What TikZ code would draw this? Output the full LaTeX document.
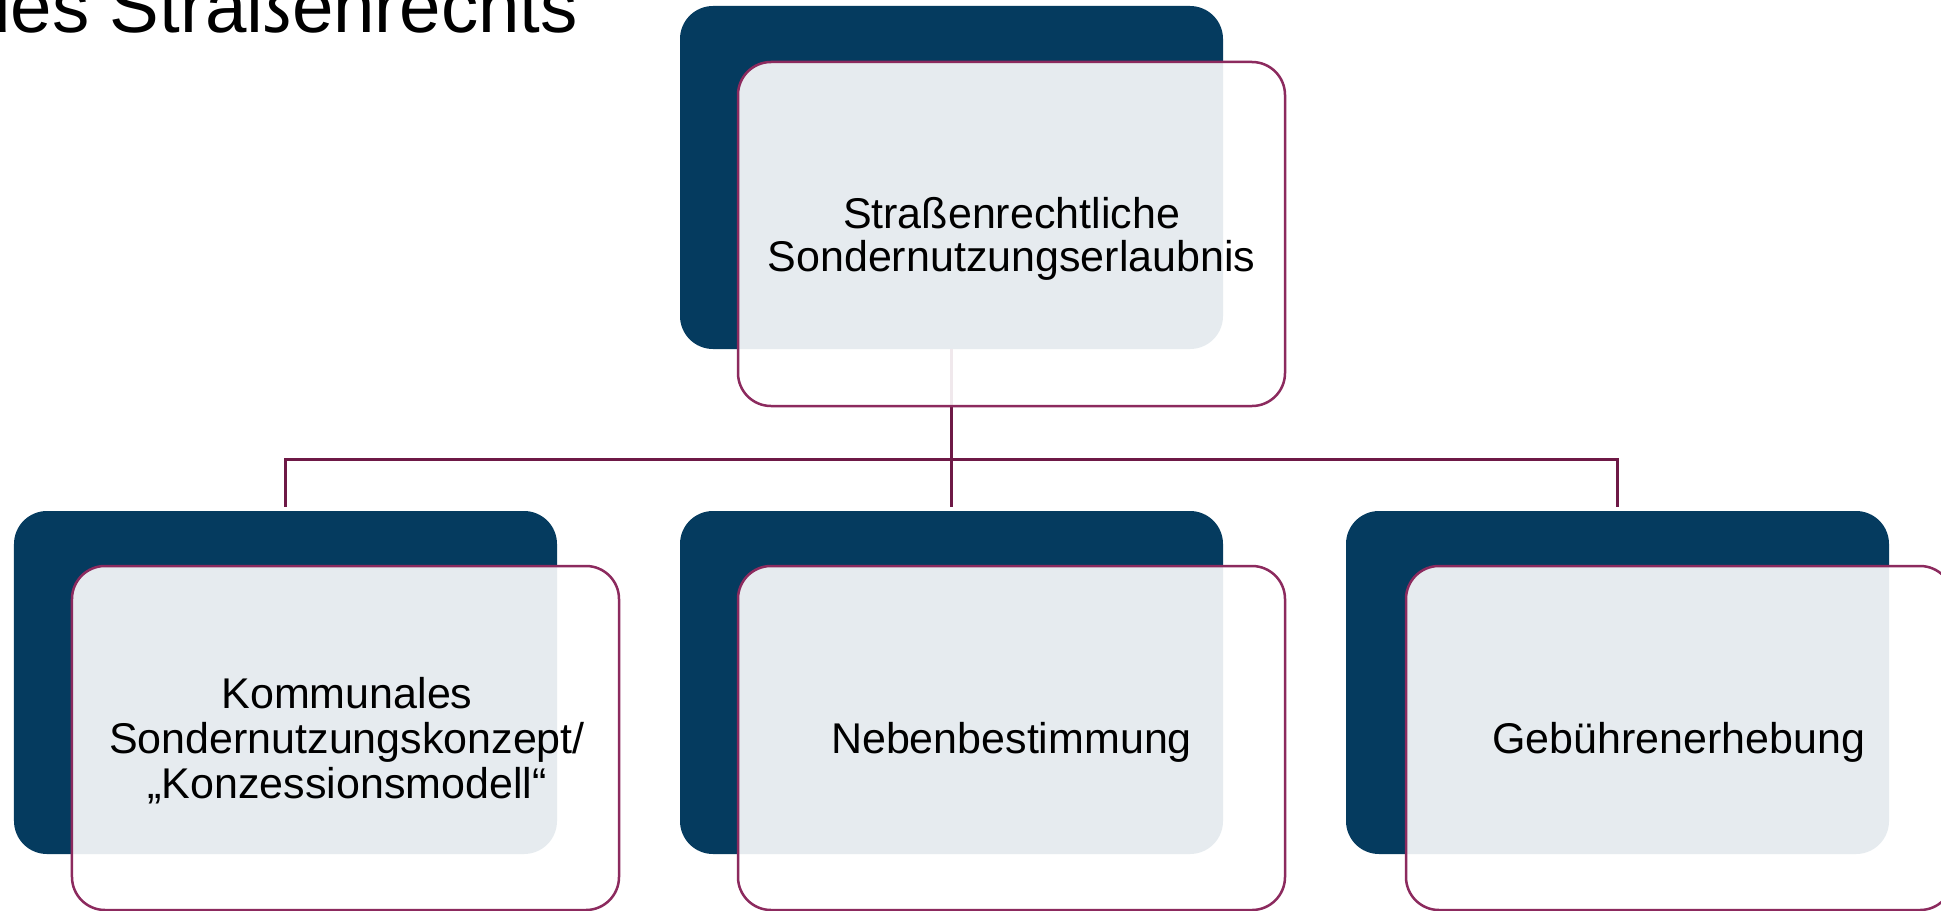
\documentclass[tikz,border=0pt]{standalone}
\usepackage{fontspec}
\newfontfamily\lbl{Liberation Sans}
\definecolor{navy}{HTML}{053B5F}
\definecolor{rim}{HTML}{8C2A5E}
\definecolor{wire}{HTML}{6E1946}
\begin{document}
\begin{tikzpicture}[x=1bp,y=-1bp,
  darkbox/.style={fill=navy, draw=none, rounded corners=33bp, minimum width=543bp, minimum height=343bp, inner sep=0pt, outer sep=0pt},
  lightbox/.style={fill=white, fill opacity=0.9, draw=rim, draw opacity=1, line width=2.5bp, rounded corners=33bp, minimum width=547bp, minimum height=344bp, inner sep=0pt, outer sep=0pt},
  conn/.style={draw=wire, line width=3bp},
  lbltext/.style={font=\lbl\fontsize{43bp}{44bp}\selectfont, anchor=base, inner sep=0pt, text=black},
  ttl/.style={font=\lbl\fontsize{74.5bp}{78bp}\selectfont, anchor=base west, inner sep=0pt, text=black}]
\useasboundingbox (0,0) rectangle (1941,911);
\clip (0,0) rectangle (1941,911);
\fill[white] (0,0) rectangle (1941,911);

% title (cut by the page edge)
\node[ttl] (title) at (-31,32) {des Straßenrechts};

% dark back boxes
\node[darkbox] (D0) at (951.5,177.5) {};
\node[darkbox] (D1) at (285.5,682.5) {};
\node[darkbox] (D2) at (951.5,682.5) {};
\node[darkbox] (D3) at (1617.5,682.5) {};

% connectors
\coordinate (bus) at (0,459);
\draw[conn, shorten >=4bp] (D0.south) -- (D2.north);
\draw[conn, shorten >=4bp] (D0.south |- bus) -| (D1.north);
\draw[conn, shorten >=4bp] (D0.south |- bus) -| (D3.north);

% light front boxes
\node[lightbox] (L0) at (1011.5,234) {};
\node[lightbox] (L1) at (345.5,738) {};
\node[lightbox] (L2) at (1011.5,738) {};
\node[lightbox] (L3) at (1679.5,738) {};

% texts
\node[lbltext] (t0a) at (1011.5,228) {Straßenrechtliche};
\node[lbltext] (t0b) at (1011.5,271) {Sondernutzungserlaubnis};
\node[lbltext] (t1a) at (347,708) {Kommunales};
\node[lbltext] (t1b) at (347,753) {Sondernutzungskonzept/};
\node[lbltext] (t1c) at (347,798) {„Konzessionsmodell“};
\node[lbltext] (t2) at (1011.5,753) {Nebenbestimmung};
\node[lbltext] (t3) at (1679,753) {Gebührenerhebung};
\end{tikzpicture}
\end{document}
